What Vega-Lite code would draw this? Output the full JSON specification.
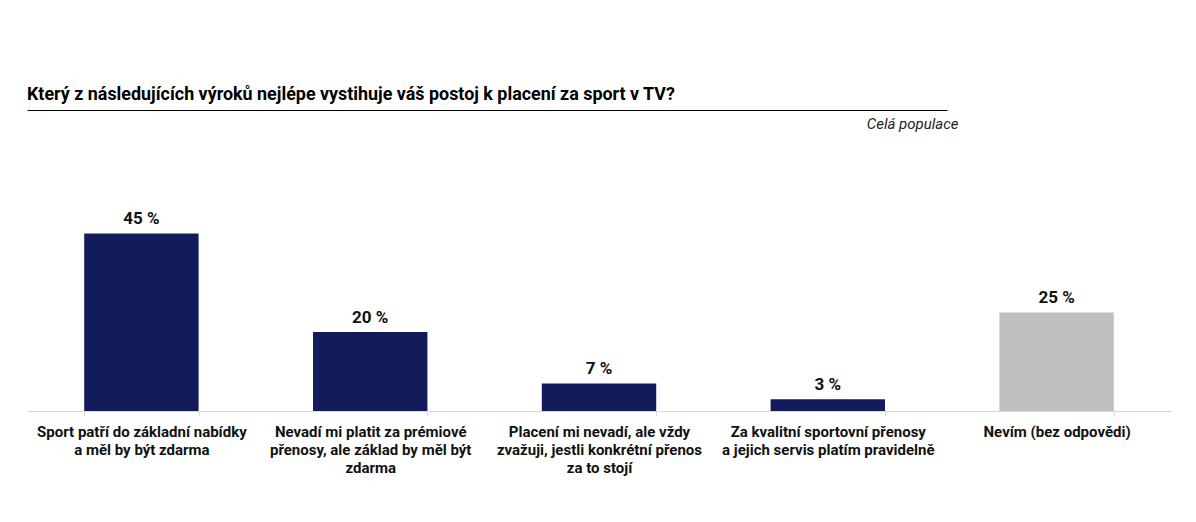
{
  "$schema": "https://vega.github.io/schema/vega-lite/v6.json",
  "width": 1144,
  "height": 301,
  "autosize": {"type": "none"},
  "padding": {"left": 27, "top": 110, "right": 25, "bottom": 111},
  "background": "white",
  "config": {"view": {"stroke": null}, "font": "Roboto"},
  "title": {
    "text": "Který z následujících výroků nejlépe vystihuje váš postoj k placení za sport v TV?",
    "anchor": "start",
    "frame": "group",
    "fontSize": 17.9,
    "fontWeight": "bold",
    "color": "#000000",
    "font": "Roboto",
    "offset": 6
  },
  "data": {
    "values": [
      {"odpoved": "Sport patří do základní nabídky\na měl by být zdarma", "pct": 45, "label": "45 %", "skupina": "odpověď"},
      {"odpoved": "Nevadí mi platit za prémiové\npřenosy, ale základ by měl být\nzdarma", "pct": 20, "label": "20 %", "skupina": "odpověď"},
      {"odpoved": "Placení mi nevadí, ale vždy\nzvažuji, jestli konkrétní přenos\nza to stojí", "pct": 7, "label": "7 %", "skupina": "odpověď"},
      {"odpoved": "Za kvalitní sportovní přenosy\na jejich servis platím pravidelně", "pct": 3, "label": "3 %", "skupina": "odpověď"},
      {"odpoved": "Nevím (bez odpovědi)", "pct": 25, "label": "25 %", "skupina": "bez odpovědi"}
    ]
  },
  "layer": [
    {
      "encoding": {
        "x": {
          "field": "odpoved",
          "type": "nominal",
          "sort": null,
          "scale": {"paddingInner": 0.5, "paddingOuter": 0.25},
          "axis": {
            "title": null,
            "orient": "bottom",
            "labelAngle": 0,
            "labelExpr": "split(datum.label, '\\n')",
            "labelFont": "Roboto",
            "labelFontSize": 15,
            "labelFontWeight": "bold",
            "labelColor": "#111111",
            "labelLimit": 0,
            "labelLineHeight": 18,
            "labelBaseline": "top",
            "labelPadding": 8,
            "domainColor": "#d9d9d9",
            "domainWidth": 1,
            "tickColor": "#d9d9d9",
            "tickSize": 5,
            "tickBand": "extent",
            "grid": false
          }
        },
        "y": {
          "field": "pct",
          "type": "quantitative",
          "scale": {"domain": [0, 76.3], "nice": false, "zero": true},
          "axis": null
        }
      },
      "layer": [
        {
          "mark": {"type": "bar"},
          "encoding": {
            "color": {
              "field": "skupina",
              "type": "nominal",
              "scale": {"domain": ["odpověď", "bez odpovědi"], "range": ["#131c5a", "#bfbfbf"]},
              "legend": null
            }
          }
        },
        {
          "mark": {"type": "text", "baseline": "alphabetic", "dy": -9.5, "fontSize": 17, "fontWeight": "bold", "color": "#111111", "font": "Roboto"},
          "encoding": {"text": {"field": "label", "type": "nominal"}}
        }
      ]
    },
    {
      "mark": {"type": "point", "opacity": 0},
      "encoding": {
        "x": {
          "field": "pct",
          "type": "quantitative",
          "scale": {"domain": [0, 100], "range": [0, 920]},
          "axis": {
            "orient": "top",
            "domain": true,
            "domainColor": "#000000",
            "domainWidth": 1,
            "ticks": false,
            "labels": false,
            "grid": false,
            "title": "Celá populace",
            "titleFont": "Roboto",
            "titleFontSize": 15,
            "titleFontStyle": "italic",
            "titleFontWeight": "normal",
            "titleColor": "#222222",
            "titleAnchor": "end",
            "titleAlign": "right",
            "titleBaseline": "middle",
            "titleX": 931,
            "titleY": 13
          }
        }
      }
    }
  ],
  "resolve": {"scale": {"x": "independent"}, "axis": {"x": "independent"}}
}
